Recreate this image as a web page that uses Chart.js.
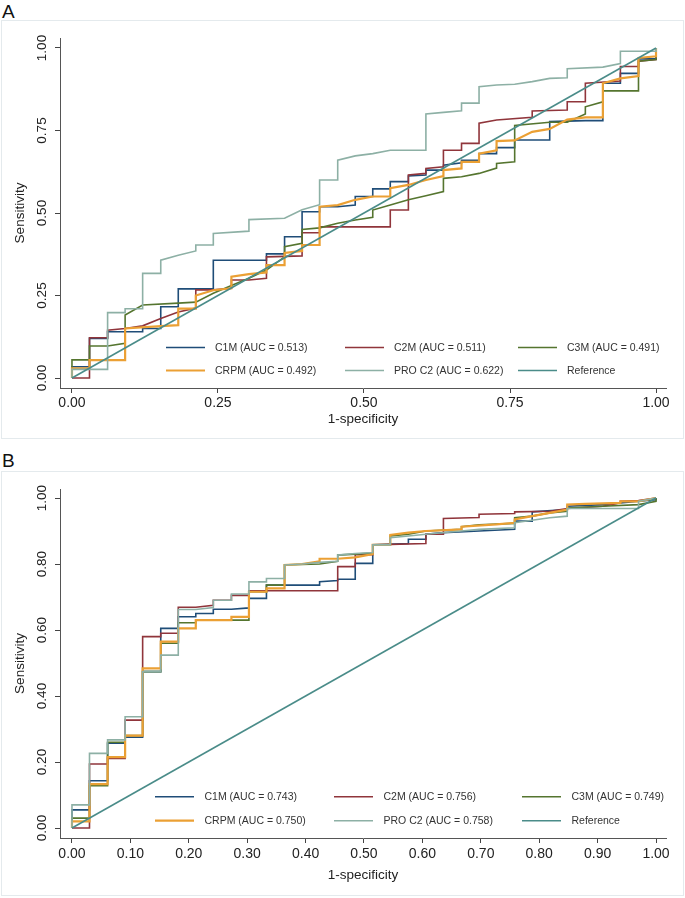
<!DOCTYPE html>
<html>
<head>
<meta charset="utf-8">
<script src="https://cdn.jsdelivr.net/npm/chart.js@4/dist/chart.umd.min.js"></script>
<style>
  body { margin: 0; background: #fff; font-family: "Liberation Sans", Arial, sans-serif; }
  .lbl { position: absolute; left: 2px; font-size: 19px; line-height: 19px; color: #111; }
  .box { position: absolute; left: 1px; border: 1px solid #e4eaed; }
  canvas { display: block; }
</style>
</head>
<body>
<div class="lbl" style="top:2px">A</div>
<div class="box" style="top:20px"><canvas id="chartA" width="681" height="417"></canvas></div>
<div class="lbl" style="top:451px">B</div>
<div class="box" style="top:471px"><canvas id="chartB" width="681" height="423"></canvas></div>
<script>
// series names and colours (Stata s2color look)
var names = ["C1M", "C2M", "C3M", "CRPM", "PRO C2", "Reference"];
var colors = ["#1f4d78", "#90353b", "#55752f", "#eba034", "#8db0a5", "#4a8c89"];
var widths = [1.6, 1.6, 1.6, 2.2, 1.6, 1.6];

var aucA = ["0.513", "0.511", "0.491", "0.492", "0.622"];
var aucB = ["0.743", "0.756", "0.749", "0.750", "0.758"];

var ticksA = [0, 0.25, 0.5, 0.75, 1];
var ticksB = [0, 0.1, 0.2, 0.3, 0.4, 0.5, 0.6, 0.7, 0.8, 0.9, 1];
var yTicksB = [0, 0.2, 0.4, 0.6, 0.8, 1];

// panel A curves, [1-specificity, sensitivity]
var a_c1m = [[0,0],[0,0.034],[0.03,0.034],[0.03,0.12],[0.061,0.12],[0.061,0.14],[0.121,0.14],[0.121,0.15],
  [0.152,0.15],[0.152,0.216],[0.182,0.216],[0.182,0.27],[0.242,0.27],[0.242,0.357],[0.333,0.357],[0.333,0.376],
  [0.364,0.376],[0.364,0.428],[0.394,0.428],[0.394,0.504],[0.424,0.504],[0.424,0.519],[0.455,0.519],[0.485,0.524],
  [0.485,0.55],[0.515,0.55],[0.515,0.573],[0.545,0.573],[0.545,0.595],[0.576,0.595],[0.576,0.612],[0.606,0.615],
  [0.606,0.63],[0.636,0.63],[0.636,0.645],[0.667,0.652],[0.667,0.66],[0.697,0.66],[0.697,0.68],[0.727,0.68],
  [0.727,0.698],[0.758,0.698],[0.758,0.721],[0.818,0.721],[0.818,0.777],[0.879,0.78],[0.909,0.78],[0.909,0.893],
  [0.939,0.893],[0.939,0.923],[0.97,0.923],[0.97,0.967],[1,0.967],[1,1]];
var a_c2m = [[0,0],[0.03,0],[0.03,0.122],[0.061,0.122],[0.061,0.145],[0.091,0.15],[0.121,0.158],[0.152,0.18],
  [0.182,0.2],[0.212,0.212],[0.212,0.267],[0.242,0.267],[0.273,0.272],[0.273,0.297],[0.303,0.297],[0.333,0.302],
  [0.333,0.367],[0.394,0.37],[0.394,0.44],[0.424,0.44],[0.424,0.458],[0.545,0.458],[0.545,0.509],[0.576,0.509],
  [0.576,0.615],[0.606,0.62],[0.606,0.635],[0.636,0.64],[0.636,0.69],[0.667,0.69],[0.667,0.711],[0.697,0.711],
  [0.697,0.772],[0.727,0.782],[0.788,0.79],[0.788,0.809],[0.848,0.812],[0.848,0.837],[0.879,0.837],[0.879,0.893],
  [0.939,0.9],[0.939,0.944],[0.97,0.944],[0.97,0.96],[1,0.965],[1,1]];
var a_c3m = [[0,0],[0,0.055],[0.03,0.055],[0.03,0.097],[0.061,0.097],[0.091,0.105],[0.091,0.191],[0.121,0.221],
  [0.182,0.227],[0.212,0.23],[0.242,0.257],[0.273,0.28],[0.303,0.302],[0.333,0.327],[0.364,0.367],[0.364,0.398],
  [0.394,0.408],[0.394,0.45],[0.424,0.455],[0.455,0.469],[0.485,0.479],[0.515,0.487],[0.515,0.509],[0.545,0.524],
  [0.576,0.54],[0.606,0.552],[0.636,0.565],[0.636,0.605],[0.667,0.61],[0.697,0.62],[0.727,0.636],[0.727,0.65],
  [0.758,0.655],[0.758,0.765],[0.818,0.775],[0.848,0.775],[0.879,0.8],[0.879,0.822],[0.909,0.837],[0.909,0.87],
  [0.97,0.87],[0.97,0.96],[1,0.965],[1,1]];
var a_crpm = [[0,0],[0,0.029],[0.03,0.029],[0.03,0.054],[0.091,0.054],[0.091,0.15],[0.152,0.157],[0.182,0.16],
  [0.182,0.21],[0.212,0.21],[0.212,0.25],[0.242,0.266],[0.273,0.272],[0.273,0.307],[0.303,0.315],[0.333,0.32],
  [0.333,0.342],[0.364,0.342],[0.364,0.379],[0.394,0.385],[0.394,0.403],[0.424,0.403],[0.424,0.519],[0.455,0.524],
  [0.485,0.54],[0.515,0.55],[0.545,0.55],[0.545,0.575],[0.576,0.585],[0.606,0.6],[0.636,0.612],[0.636,0.63],
  [0.667,0.635],[0.667,0.655],[0.697,0.655],[0.697,0.68],[0.727,0.69],[0.727,0.718],[0.758,0.72],[0.788,0.746],
  [0.818,0.755],[0.848,0.783],[0.879,0.79],[0.909,0.79],[0.909,0.893],[0.939,0.908],[0.97,0.915],[0.97,0.97],
  [1,0.975],[1,1]];
var a_proc2 = [[0,0],[0,0.026],[0.061,0.026],[0.061,0.198],[0.091,0.198],[0.091,0.21],[0.121,0.21],[0.121,0.317],
  [0.152,0.317],[0.152,0.357],[0.182,0.372],[0.212,0.385],[0.212,0.403],[0.242,0.403],[0.242,0.438],[0.303,0.445],
  [0.303,0.48],[0.364,0.484],[0.394,0.51],[0.424,0.525],[0.424,0.6],[0.455,0.6],[0.455,0.66],[0.485,0.673],
  [0.515,0.68],[0.545,0.69],[0.606,0.69],[0.606,0.8],[0.636,0.805],[0.667,0.81],[0.667,0.833],[0.697,0.833],
  [0.697,0.883],[0.727,0.888],[0.758,0.89],[0.788,0.898],[0.818,0.908],[0.848,0.91],[0.848,0.937],[0.909,0.942],
  [0.939,0.953],[0.939,0.99],[1,0.99],[1,1]];

// panel B curves
var b_c1m = [[0,0],[0,0.055],[0.03,0.055],[0.03,0.143],[0.061,0.143],[0.061,0.257],[0.091,0.257],[0.091,0.275],
  [0.121,0.275],[0.121,0.474],[0.152,0.474],[0.152,0.605],[0.182,0.605],[0.182,0.64],[0.212,0.64],[0.212,0.65],
  [0.242,0.65],[0.242,0.663],[0.273,0.663],[0.303,0.667],[0.303,0.696],[0.333,0.696],[0.333,0.736],[0.424,0.736],
  [0.424,0.746],[0.455,0.75],[0.455,0.754],[0.485,0.754],[0.485,0.802],[0.515,0.802],[0.515,0.858],[0.576,0.862],
  [0.576,0.875],[0.606,0.875],[0.606,0.89],[0.636,0.895],[0.697,0.9],[0.758,0.905],[0.758,0.93],[0.788,0.93],
  [0.788,0.958],[0.848,0.965],[0.848,0.975],[0.909,0.98],[0.939,0.985],[0.97,0.99],[1,0.995],[1,1]];
var b_c2m = [[0,0],[0.03,0],[0.03,0.194],[0.061,0.194],[0.061,0.211],[0.091,0.211],[0.091,0.327],[0.121,0.327],
  [0.121,0.58],[0.152,0.58],[0.152,0.59],[0.182,0.59],[0.182,0.669],[0.212,0.669],[0.242,0.675],[0.242,0.69],
  [0.273,0.69],[0.273,0.705],[0.303,0.705],[0.303,0.719],[0.455,0.719],[0.455,0.792],[0.485,0.792],[0.485,0.828],
  [0.515,0.828],[0.515,0.858],[0.606,0.862],[0.606,0.89],[0.636,0.89],[0.636,0.938],[0.697,0.941],[0.697,0.951],
  [0.758,0.953],[0.758,0.958],[0.818,0.96],[0.848,0.968],[0.909,0.975],[0.939,0.985],[0.939,0.99],[0.97,0.992],[1,1]];
var b_c3m = [[0,0],[0,0.03],[0.03,0.03],[0.03,0.128],[0.061,0.128],[0.061,0.26],[0.091,0.26],[0.091,0.28],
  [0.121,0.28],[0.121,0.474],[0.152,0.474],[0.152,0.56],[0.182,0.56],[0.182,0.622],[0.212,0.622],[0.212,0.63],
  [0.303,0.63],[0.303,0.716],[0.333,0.716],[0.333,0.736],[0.364,0.736],[0.364,0.797],[0.424,0.8],[0.455,0.808],
  [0.455,0.827],[0.485,0.83],[0.515,0.833],[0.515,0.858],[0.545,0.858],[0.545,0.885],[0.576,0.89],[0.606,0.9],
  [0.667,0.905],[0.667,0.913],[0.697,0.919],[0.758,0.923],[0.758,0.94],[0.788,0.945],[0.818,0.955],[0.848,0.96],
  [0.848,0.97],[0.909,0.975],[0.97,0.98],[1,0.99],[1,1]];
var b_crpm = [[0,0],[0,0.02],[0.03,0.02],[0.03,0.133],[0.061,0.133],[0.061,0.215],[0.091,0.215],[0.091,0.28],
  [0.121,0.28],[0.121,0.484],[0.152,0.484],[0.152,0.565],[0.182,0.565],[0.182,0.605],[0.212,0.605],[0.212,0.63],
  [0.273,0.63],[0.273,0.64],[0.303,0.64],[0.303,0.716],[0.333,0.716],[0.333,0.726],[0.364,0.726],[0.364,0.797],
  [0.394,0.8],[0.424,0.808],[0.424,0.816],[0.455,0.816],[0.485,0.82],[0.515,0.83],[0.515,0.858],[0.545,0.858],
  [0.545,0.888],[0.576,0.895],[0.606,0.9],[0.667,0.905],[0.667,0.913],[0.727,0.92],[0.758,0.925],[0.758,0.935],
  [0.788,0.945],[0.818,0.955],[0.848,0.965],[0.848,0.98],[0.879,0.982],[0.939,0.985],[0.939,0.99],[0.97,0.99],[1,1]];
var b_proc2 = [[0,0],[0,0.07],[0.03,0.07],[0.03,0.226],[0.061,0.226],[0.061,0.267],[0.091,0.267],[0.091,0.337],
  [0.121,0.337],[0.121,0.474],[0.152,0.474],[0.152,0.524],[0.182,0.524],[0.182,0.662],[0.212,0.662],[0.242,0.668],
  [0.242,0.69],[0.273,0.69],[0.273,0.709],[0.303,0.709],[0.303,0.746],[0.333,0.746],[0.333,0.756],[0.364,0.756],
  [0.364,0.797],[0.394,0.8],[0.424,0.805],[0.455,0.808],[0.455,0.827],[0.485,0.832],[0.515,0.835],[0.515,0.858],
  [0.545,0.858],[0.545,0.88],[0.576,0.885],[0.606,0.89],[0.667,0.9],[0.697,0.905],[0.758,0.91],[0.758,0.925],
  [0.818,0.94],[0.848,0.945],[0.848,0.968],[0.97,0.968],[0.97,0.99],[1,1]];

var reference = [[0,0],[1,1]];

var fontFam = "'Liberation Sans', Arial, sans-serif";

function toXY(pts) {
    return pts.map(function (p) { return { x: p[0], y: p[1] }; });
}

function buildDatasets(curves) {
    var ds = [];
    for (var i = 0; i < curves.length; i++) {
        ds.push({
            label: names[i],
            data: toXY(curves[i]),
            borderColor: colors[i],
            backgroundColor: colors[i],
            borderWidth: widths[i],
            showLine: true,
            pointRadius: 0,
            tension: 0,
            order: curves.length - 1 - i
        });
    }
    return ds;
}

// legend drawn inside the plot, 3 columns x 2 rows
var insideLegend = {
    id: 'insideLegend',
    afterDraw: function (chart, args, opts) {
        var ctx = chart.ctx;
        ctx.save();
        ctx.font = "10.5px " + fontFam;
        ctx.textBaseline = 'middle';
        ctx.textAlign = 'left';
        for (var i = 0; i < names.length; i++) {
            var col = i % 3, row = Math.floor(i / 3);
            var x = opts.cols[col], y = opts.rows[row];
            ctx.strokeStyle = colors[i];
            ctx.lineWidth = widths[i];
            ctx.beginPath();
            ctx.moveTo(x, y);
            ctx.lineTo(x + 39, y);
            ctx.stroke();
            ctx.fillStyle = '#333';
            var txt = i < 5 ? names[i] + " (AUC = " + opts.auc[i] + ")" : names[i];
            ctx.fillText(txt, x + opts.gap, y + 0.5);
        }
        ctx.restore();
    }
};

function makeChart(id, curves, xt, yt, xr, yr, lay) {
    return new Chart(document.getElementById(id), {
        type: 'scatter',
        data: { datasets: buildDatasets(curves) },
        plugins: [insideLegend],
        options: {
            responsive: false,
            animation: false,
            devicePixelRatio: 1,
            layout: { padding: { top: lay.top, right: 17, left: 0, bottom: 0 } },
            plugins: {
                legend: { display: false },
                tooltip: { enabled: false },
                insideLegend: lay.legend
            },
            scales: {
                x: {
                    type: 'linear', min: xr[0], max: xr[1],
                    afterBuildTicks: function (s) { s.ticks = xt.map(function (v) { return { value: v }; }); },
                    afterFit: function (s) { s.height = lay.xh; },
                    grid: { drawOnChartArea: false, drawTicks: true, tickLength: 5, tickColor: '#444' },
                    border: { display: true, color: '#555', width: 1 },
                    ticks: {
                        color: '#222', padding: lay.xpad, maxRotation: 0,
                        font: { family: fontFam, size: 14 },
                        callback: function (v) { return v.toFixed(2); }
                    },
                    title: {
                        display: true, text: '1-specificity', color: '#222',
                        font: { family: fontFam, size: 13.5 },
                        padding: { top: 0, bottom: lay.tpad }
                    }
                },
                y: {
                    type: 'linear', min: yr[0], max: yr[1],
                    afterBuildTicks: function (s) { s.ticks = yt.map(function (v) { return { value: v }; }); },
                    afterFit: function (s) { s.width = 58; },
                    grid: { drawOnChartArea: false, drawTicks: true, tickLength: 5, tickColor: '#444' },
                    border: { display: true, color: '#555', width: 1 },
                    ticks: {
                        color: '#222', padding: 0, minRotation: 90, maxRotation: 90, crossAlign: 'center',
                        font: { family: fontFam, size: 13.5 },
                        callback: function (v) { return v.toFixed(2); }
                    },
                    title: {
                        display: true, text: 'Sensitivity', color: '#222',
                        font: { family: fontFam, size: 13.5 },
                        padding: { top: 10, bottom: 0 }
                    }
                }
            }
        }
    });
}

makeChart('chartA', [a_c1m, a_c2m, a_c3m, a_crpm, a_proc2, reference], ticksA, ticksA,
    [-0.0205, 1.0171], [-0.0303, 1.0303],
    { top: 17, xh: 50, xpad: 2, tpad: 11,
      legend: { cols: [164, 343, 516], rows: [326.5, 349.5], gap: 49, auc: aucA } });

makeChart('chartB', [b_c1m, b_c2m, b_c3m, b_crpm, b_proc2, reference], ticksB, yTicksB,
    [-0.0205, 1.0171], [-0.0303, 1.0273],
    { top: 17, xh: 57, xpad: 3, tpad: 12,
      legend: { cols: [153, 332, 520], rows: [324.7, 348.7], gap: 49.5, auc: aucB } });
</script>
</body>
</html>
